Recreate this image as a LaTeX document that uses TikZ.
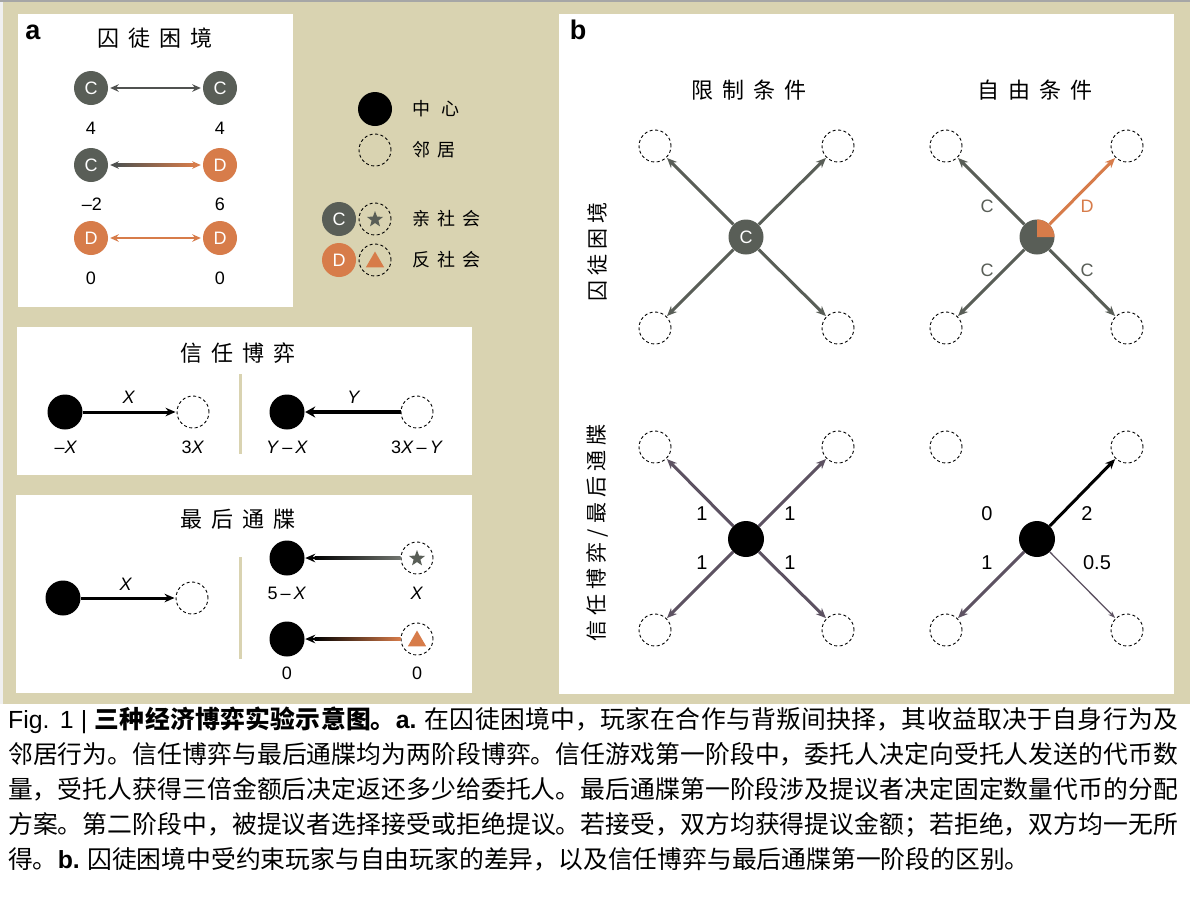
\documentclass[tikz,border=0pt]{standalone}
\usepackage{fontspec}
\setmainfont{Liberation Sans}
\newfontfamily\cjk{Noto Sans CJK SC}
\usetikzlibrary{arrows.meta,shapes.geometric,calc}
\definecolor{beige}{HTML}{D9D3B1}
\definecolor{pdgray}{HTML}{595E57}
\definecolor{pdorange}{HTML}{D77C4A}
\definecolor{arrgray}{HTML}{505250}
\definecolor{tgpurple}{HTML}{5D5262}
\XeTeXlinebreaklocale "zh"
\XeTeXlinebreakskip=0pt plus 3pt minus 0.2pt
\begin{document}
\begin{tikzpicture}[x=1pt,y=-1pt,
  cn/.style={circle, fill=pdgray, minimum size=34pt, inner sep=0pt, text=white, font=\fontsize{18}{18}\selectfont},
  dn/.style={cn, fill=pdorange},
  ctr/.style={circle, fill=black, minimum size=35pt, inner sep=0pt},
  nbr/.style={circle, draw=black, dash pattern=on 3pt off 2.5pt, line width=0.9pt, minimum size=32pt, inner sep=0pt},
  lbl/.style={font=\fontsize{18}{18}\selectfont, inner sep=0pt},
  blbl/.style={font=\fontsize{20}{20}\selectfont, inner sep=0pt},
  ttl/.style={font=\cjk\fontsize{22}{22}\selectfont, inner sep=0pt},
  lgd/.style={font=\cjk\fontsize{18}{18}\selectfont, inner sep=0pt, anchor=west},
  rlbl/.style={font=\cjk\fontsize{21}{21}\selectfont, inner sep=0pt, rotate=90},
  plbl/.style={font=\bfseries\fontsize{27}{27}\selectfont, inner sep=0pt},
  starmark/.style={star, star points=5, star point ratio=2.4, fill=pdgray, minimum size=17pt, inner sep=0pt},
  trimark/.style={regular polygon, regular polygon sides=3, fill=pdorange, minimum size=21pt, inner sep=0pt},
  sh/.style={-{Stealth[length=8.5pt,width=7.5pt]}},
  dh/.style={{Stealth[length=8.5pt,width=7.5pt]}-{Stealth[length=8.5pt,width=7.5pt]}},
  bh/.style={-{Stealth[length=10pt,width=8.5pt]}}
]
\useasboundingbox (0,0) rectangle (1190,898);
\fill[white] (0,0) rectangle (1190,898);
\fill[beige] (0,0) rectangle (1190,704);
\fill[gray!12] (0,0) rectangle (2.5,704);
\draw[gray!70, line width=1.5pt] (0,0.75) -- (1190,0.75);
% panel backgrounds
\fill[white] (18,14) rectangle (293,307);
\fill[white] (17,327) rectangle (472,475);
\fill[white] (16,495) rectangle (472,693);
\fill[white] (559,14) rectangle (1174,694);

% ---------- panel a : prisoner's dilemma ----------
\node[plbl] (la) at (33,32) {a};
\node[ttl] (ta) at (155,38) {囚\hspace{9pt}徒\hspace{9pt}困\hspace{9pt}境};
\node[cn] (a1) at (91,88) {C};
\node[cn] (a2) at (220,88) {C};
\draw[arrgray, line width=2.5pt, dh, shorten <=2pt, shorten >=2pt] (a1) -- (a2);
\node[lbl] (a1v) at (91,128) {4};
\node[lbl] (a2v) at (220,128) {4};
\node[cn] (b1) at (91,165) {C};
\node[dn] (b2) at (220,165) {D};
\shade[left color=arrgray, right color=pdorange] ($(b1.east)+(8,-1.25)$) rectangle ($(b2.west)+(-8,1.25)$);
\draw[arrgray, line width=2.5pt, sh, shorten >=2pt] ($(b1.east)+(12,0)$) -- (b1.east);
\draw[pdorange, line width=2.5pt, sh, shorten >=2pt] ($(b2.west)+(-12,0)$) -- (b2.west);
\node[lbl] (b1v) at (92,204) {–2};
\node[lbl] (b2v) at (220,204) {6};
\node[dn] (c1) at (91,238) {D};
\node[dn] (c2) at (220,238) {D};
\draw[pdorange, line width=2.5pt, dh, shorten <=2pt, shorten >=2pt] (c1) -- (c2);
\node[lbl] (c1v) at (91,278) {0};
\node[lbl] (c2v) at (220,278) {0};

% ---------- legend ----------
\node[ctr, minimum size=34pt] (lg1) at (375,109) {};
\node[nbr] (lg2) at (375,150) {};
\node[lgd] (lt1) at (412,109) {中\hspace{11pt}心};
\node[lgd] (lt2) at (412,150) {邻\hspace{7pt}居};
\node[cn] (lg3) at (339,219) {C};
\node[nbr] (lg4) at (375,219) {};
\node[starmark] (lg4s) at (375,219.5) {};
\node[lgd] (lt3) at (412,219) {亲\hspace{7pt}社\hspace{7pt}会};
\node[dn] (lg5) at (339,260) {D};
\node[nbr] (lg6) at (375,260) {};
\node[trimark] (lg6t) at (375,262) {};
\node[lgd] (lt4) at (412,260) {反\hspace{7pt}社\hspace{7pt}会};

% ---------- trust game ----------
\node[ttl] (tt) at (238,353) {信\hspace{9pt}任\hspace{9pt}博\hspace{9pt}弈};
\draw[beige, line width=3pt] (240,374) -- (240,454);
\node[ctr] (t1) at (65,412) {};
\node[nbr] (t2) at (193,412) {};
\draw[line width=3pt, bh, shorten >=1pt] (t1) -- (t2);
\node[lbl] (tx) at (129,397) {\textit{X}};
\node[lbl] (t1v) at (66,447) {–\textit{X}};
\node[lbl] (t2v) at (193,447) {3\textit{X}};
\node[ctr] (t3) at (287,412) {};
\node[nbr] (t4) at (417,412) {};
\draw[line width=4.5pt, -{Stealth[length=10pt,width=11pt]}, shorten >=0.5pt] (t4) -- (t3);
\node[lbl] (ty) at (354,397) {\textit{Y}};
\node[lbl] (t3v) at (287,447) {\textit{Y}\,–\,\textit{X}};
\node[lbl] (t4v) at (417,447) {3\textit{X}\,–\,\textit{Y}};

% ---------- ultimatum game ----------
\node[ttl] (ut) at (238,519) {最\hspace{9pt}后\hspace{9pt}通\hspace{9pt}牒};
\draw[beige, line width=3pt] (240,557) -- (240,659);
\node[ctr] (u1) at (63,598) {};
\node[nbr] (u2) at (192,598) {};
\draw[line width=3pt, bh, shorten >=1pt] (u1) -- (u2);
\node[lbl] (ux) at (126,584) {\textit{X}};
\node[ctr] (u3) at (287,558) {};
\node[nbr] (u4) at (417,558) {};
\node[starmark] (u4s) at (417,558.5) {};
\shade[left color=black, right color=pdgray!85] ($(u3.east)+(10,-1.3)$) rectangle ($(u4.west)+(0,1.3)$);
\draw[line width=2.6pt, bh, shorten >=0.5pt] ($(u3.east)+(14,0)$) -- (u3.east);
\node[lbl] (u3v) at (287,593) {5\,–\,\textit{X}};
\node[lbl] (u4v) at (417,593) {\textit{X}};
\node[ctr] (u5) at (287,639) {};
\node[nbr] (u6) at (417,639) {};
\node[trimark] (u6t) at (417,641) {};
\shade[left color=black, right color=pdorange] ($(u5.east)+(10,-1.3)$) rectangle ($(u6.west)+(0,1.3)$);
\draw[line width=2.6pt, bh, shorten >=0.5pt] ($(u5.east)+(14,0)$) -- (u5.east);
\node[lbl] (u5v) at (287,673) {0};
\node[lbl] (u6v) at (417,673) {0};

% ---------- panel b ----------
\node[plbl] (lb) at (578,30) {b};
\node[ttl] (bt1) at (749,90) {限\hspace{9pt}制\hspace{9pt}条\hspace{9pt}件};
\node[ttl] (bt2) at (1035,90) {自\hspace{9pt}由\hspace{9pt}条\hspace{9pt}件};
\node[rlbl] (br1) at (597,252) {囚\hspace{5pt}徒\hspace{5pt}困\hspace{5pt}境};
\node[rlbl] (br2) at (597,533) {信\hspace{5pt}任\hspace{5pt}博\hspace{5pt}弈\hspace{5pt}/\hspace{5pt}最\hspace{5pt}后\hspace{5pt}通\hspace{5pt}牒};

% restricted PD
\node[cn, minimum size=35pt] (p0) at (746,237) {C};
\node[nbr] (p1) at (655,146) {};
\node[nbr] (p2) at (838,146) {};
\node[nbr] (p3) at (655,328) {};
\node[nbr] (p4) at (838,328) {};
\foreach \n in {p1,p2,p3,p4}
  \draw[pdgray, line width=3pt, bh, shorten >=0.5pt] (p0) -- (\n);

% free PD
\node[circle, fill=pdgray, minimum size=35pt, inner sep=0pt] (q0) at (1037,237) {};
\fill[pdorange] (q0.center) -- ++(17.5,0) arc[start angle=0, end angle=-90, radius=17.5] -- cycle;
\node[nbr] (q1) at (946,146) {};
\node[nbr] (q2) at (1127,146) {};
\node[nbr] (q3) at (946,328) {};
\node[nbr] (q4) at (1127,328) {};
\draw[pdgray, line width=3pt, bh, shorten >=0.5pt] (q0) -- (q1);
\draw[pdorange, line width=3pt, bh, shorten >=0.5pt] (q0) -- (q2);
\draw[pdgray, line width=3pt, bh, shorten >=0.5pt] (q0) -- (q3);
\draw[pdgray, line width=3pt, bh, shorten >=0.5pt] (q0) -- (q4);
\node[lbl, text=pdgray] (ql1) at (987,206) {C};
\node[lbl, text=pdorange] (ql2) at (1087,206) {D};
\node[lbl, text=pdgray] (ql3) at (987,270) {C};
\node[lbl, text=pdgray] (ql4) at (1087,270) {C};

% restricted trust/ultimatum
\node[ctr, minimum size=36pt] (r0) at (746,539) {};
\node[nbr] (r1) at (655,447) {};
\node[nbr] (r2) at (838,447) {};
\node[nbr] (r3) at (655,630) {};
\node[nbr] (r4) at (838,630) {};
\foreach \n in {r1,r2,r3,r4}
  \draw[tgpurple, line width=3pt, bh, shorten >=0.5pt] (r0) -- (\n);
\node[blbl] (rl1) at (702,514) {1};
\node[blbl] (rl2) at (790,514) {1};
\node[blbl] (rl3) at (702,563) {1};
\node[blbl] (rl4) at (790,563) {1};

% free trust/ultimatum
\node[ctr, minimum size=36pt] (s0) at (1037,539) {};
\node[nbr] (s1) at (946,447) {};
\node[nbr] (s2) at (1127,447) {};
\node[nbr] (s3) at (946,630) {};
\node[nbr] (s4) at (1127,630) {};
\draw[black, line width=3pt, bh, shorten >=0.5pt] (s0) -- (s2);
\draw[tgpurple, line width=3pt, bh, shorten >=0.5pt] (s0) -- (s3);
\draw[tgpurple, line width=1.3pt, -{Stealth[length=7pt,width=5pt]}, shorten >=0.5pt] (s0) -- (s4);
\node[blbl] (sl1) at (987,514) {0};
\node[blbl] (sl2) at (1087,514) {2};
\node[blbl] (sl3) at (987,563) {1};
\node[blbl] (sl4) at (1097,563) {0.5};

% ---------- caption ----------
\node[anchor=north west, inner sep=0pt, text width=1170pt, align=justify,
      font=\cjk\fontsize{24.8}{35}\selectfont] (cap) at (8,707) {\noindent
{\normalfont Fig. 1 | }{\bfseries 三种经济博弈实验示意图。}{\normalfont\bfseries a.} 在囚徒困境中，玩家在合作与背叛间抉择，其收益取决于自身行为及\linebreak
邻居行为。信任博弈与最后通牒均为两阶段博弈。信任游戏第一阶段中，委托人决定向受托人发送的代币数\linebreak
量，受托人获得三倍金额后决定返还多少给委托人。最后通牒第一阶段涉及提议者决定固定数量代币的分配\linebreak
方案。第二阶段中，被提议者选择接受或拒绝提议。若接受，双方均获得提议金额；若拒绝，双方均一无所\linebreak
得。{\normalfont\bfseries b.} 囚徒困境中受约束玩家与自由玩家的差异，以及信任博弈与最后通牒第一阶段的区别。};
\end{tikzpicture}
\end{document}
